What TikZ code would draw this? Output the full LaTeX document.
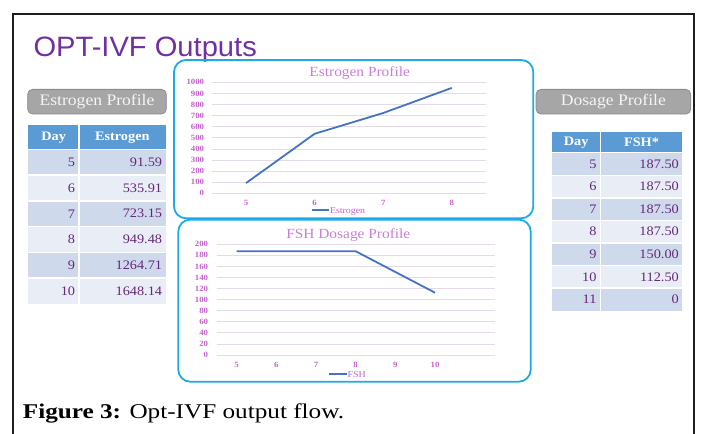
\documentclass[tikz,border=0pt]{standalone}
\usepackage{fontspec}
\setmainfont{Liberation Serif}[FakeStretch=1.1]
\newfontfamily\titlefont{Liberation Sans}[FakeStretch=1.04]
\newfontfamily\capfont{Liberation Serif}[FakeStretch=1.2]
\definecolor{framec}{RGB}{30,30,30}
\definecolor{titlec}{RGB}{112,48,160}
\definecolor{btngray}{RGB}{166,166,166}
\definecolor{btnedge}{RGB}{140,140,140}
\definecolor{btntext}{RGB}{245,245,245}
\definecolor{hdrblue}{RGB}{91,155,213}
\definecolor{rowdark}{RGB}{207,217,236}
\definecolor{rowlight}{RGB}{233,237,246}
\definecolor{celltext}{RGB}{100,40,120}
\definecolor{cyanc}{RGB}{30,170,232}
\definecolor{gridc}{RGB}{228,218,232}
\definecolor{orchid}{RGB}{196,96,204}
\definecolor{orchidl}{RGB}{204,124,218}
\definecolor{lineblue}{RGB}{68,114,196}
\tikzset{
  btn/.style={rounded corners=5pt, fill=btngray, draw=btnedge, line width=0.8pt, text=btntext, font=\fontsize{16}{18}\selectfont, inner sep=0},
  hdr/.style={text=white, font=\bfseries\fontsize{13}{15}\selectfont, inner sep=0},
  cellnum/.style={text=celltext, font=\fontsize{13}{15}\selectfont, inner sep=0, anchor=east},
  sep/.style={draw=white, line width=1.5pt},
  chartbox/.style={draw=cyanc, line width=1.8pt, rounded corners=12pt},
  gridline/.style={draw=gridc, line width=0.8pt},
  axl/.style={text=orchid, font=\bfseries\fontsize{8}{9}\selectfont, inner sep=0},
  ctitle/.style={text=orchidl, font=\fontsize{14}{16}\selectfont, inner sep=0, anchor=base},
  dataline/.style={draw=lineblue, line width=1.8pt},
  legtext/.style={text=orchid, font=\fontsize{9}{10}\selectfont, inner sep=0, anchor=west}
}
\begin{document}
\begin{tikzpicture}[x=1pt,y=-1pt]
\useasboundingbox (0,0) rectangle (702,434);
% outer frame
\draw[framec, line width=2pt] (13.3,434) -- (13.3,14.3) -- (693.7,14.3) -- (693.7,434);
% title
\node[anchor=base west, inner sep=0, text=titlec, font=\titlefont\fontsize{28}{30}\selectfont] (title) at (33.3,56.7) {OPT-IVF Outputs};
% buttons
\node[btn, minimum width=138.6pt, minimum height=24.7pt] (ebtn) at (97,101.7) {Estrogen Profile};
\node[btn, minimum width=154.7pt, minimum height=24.7pt] (dbtn) at (613.4,101.7) {Dosage Profile};

% Estrogen table
\fill[hdrblue] (28.3,125) rectangle (165.7,149.3);
\foreach \i/\d/\v/\c in {0/5/91.59/rowdark,1/6/535.91/rowlight,2/7/723.15/rowdark,3/8/949.48/rowlight,4/9/1264.71/rowdark,5/10/1648.14/rowlight}{
  \fill[\c] (28.3,{149.3+\i*25.78}) rectangle (165.7,{149.3+(\i+1)*25.78});
  \node[cellnum] (ed\i) at (75.3,{149.3+(\i+0.5)*25.78}) {\d};
  \node[cellnum] (ev\i) at (162.3,{149.3+(\i+0.5)*25.78}) {\v};
}
\draw[sep] (79,125) -- (79,304);
\foreach \i in {0,...,5}{\draw[sep] (28.3,{149.3+\i*25.78}) -- (165.7,{149.3+\i*25.78});}
\node[hdr] (eh1) at (53.6,137.2) {Day};
\node[hdr] (eh2) at (122.3,137.2) {Estrogen};

% Dosage table
\fill[hdrblue] (551.7,131.7) rectangle (682.3,152.7);
\foreach \i/\d/\v/\c in {0/5/187.50/rowdark,1/6/187.50/rowlight,2/7/187.50/rowdark,3/8/187.50/rowlight,4/9/150.00/rowdark,5/10/112.50/rowlight,6/11/0/rowdark}{
  \fill[\c] (551.7,{152.7+\i*22.57}) rectangle (682.3,{152.7+(\i+1)*22.57});
  \node[cellnum] (dd\i) at (596.7,{152.7+(\i+0.5)*22.57}) {\d};
  \node[cellnum] (dv\i) at (679,{152.7+(\i+0.5)*22.57}) {\v};
}
\draw[sep] (600.7,131.7) -- (600.7,310.7);
\foreach \i in {0,...,6}{\draw[sep] (551.7,{152.7+\i*22.57}) -- (682.3,{152.7+\i*22.57});}
\node[hdr] (dh1) at (576.2,142.2) {Day};
\node[hdr] (dh2) at (641.5,142.2) {FSH*};

% Estrogen chart
\draw[chartbox] (174,60) rectangle (533.3,218.3);
\node[ctitle] (et) at (359.7,76.7) {Estrogen Profile};
\foreach \k [evaluate=\k as \lab using int(\k*100)] in {0,...,10}{
  \draw[gridline] (211.7,{193.3-\k*11.1}) -- (486,{193.3-\k*11.1});
  \node[axl, anchor=east] (ey\k) at (204.3,{193.3-\k*11.1}) {\lab};
}
\foreach \i/\d in {0/5,1/6,2/7,3/8}{
  \node[axl] (ex\i) at ({211.7+(\i+0.5)*68.6},203.3) {\d};
}
\draw[dataline] plot coordinates {(246.0,183.1) (314.6,133.8) (383.2,113.0) (451.8,87.9)};
\coordinate (el1) at (311.7,210.3);
\coordinate (el2) at (329.3,210.3);
\draw[dataline] (el1) -- (el2);
\node[legtext] (eleg) at (329.8,211.3) {Estrogen};

% FSH chart
\draw[chartbox] (178.3,219.6) rectangle (530.7,381.7);
\node[ctitle] (ft) at (348.3,238.3) {FSH Dosage Profile};
\foreach \k [evaluate=\k as \lab using int(\k*20)] in {0,...,10}{
  \draw[gridline] (216.7,{355-\k*11.07}) -- (495,{355-\k*11.07});
  \node[axl, anchor=east] (fy\k) at (208.3,{355-\k*11.07}) {\lab};
}
\foreach \i/\d in {0/5,1/6,2/7,3/8,4/9,5/10}{
  \node[axl] (fx\i) at ({216.7+(\i+0.5)*39.7},365) {\d};
}
\draw[dataline] plot coordinates {(236.55,251.2) (276.25,251.2) (315.95,251.2) (355.65,251.2) (395.35,272.0) (435.05,292.7)};
\coordinate (fl1) at (329,373.7);
\coordinate (fl2) at (347,373.7);
\draw[dataline] (fl1) -- (fl2);
\node[legtext] (fleg) at (347.5,374.7) {FSH};

% caption
\node[anchor=base west, inner sep=0, text=black, font=\capfont\fontsize{21}{24}\selectfont] (cap) at (22.7,418) {\textbf{Figure 3:} Opt-IVF output flow.};
\end{tikzpicture}
\end{document}
